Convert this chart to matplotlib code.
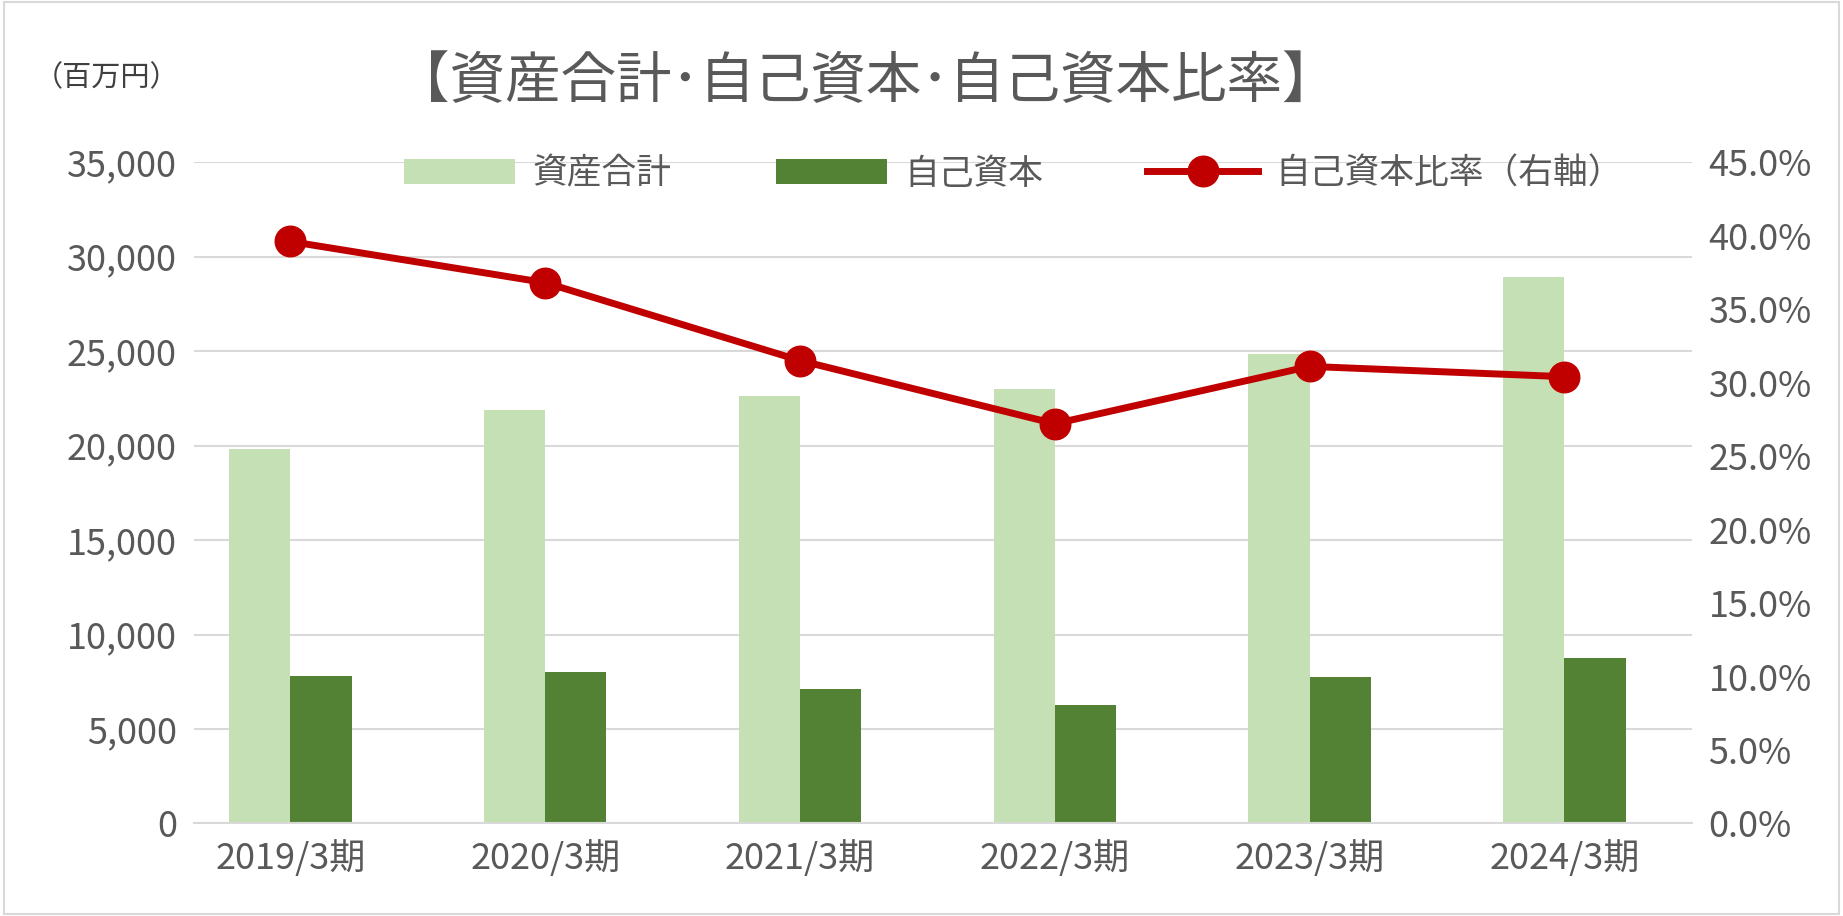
import matplotlib.pyplot as plt
import numpy as np

plt.rcParams['font.family'] = ['Noto Sans CJK JP', 'DejaVu Sans']

periods = ["2019/3期", "2020/3期", "2021/3期", "2022/3期", "2023/3期", "2024/3期"]
total_assets = [19800, 21900, 22600, 23000, 24850, 28900]
equity = [7800, 8000, 7100, 6250, 7750, 8750]
equity_ratio = [39.6, 36.8, 31.5, 27.2, 31.1, 30.4]

fig = plt.figure(figsize=(18.43, 9.16), dpi=100)
fig.patches.append(plt.Rectangle((0.002, 0.002), 0.996, 0.996, transform=fig.transFigure,
                                 fill=False, edgecolor="#d9d9d9", linewidth=1.5))
ax = fig.add_axes([0.105, 0.101, 0.813, 0.722])
ax2 = ax.twinx()

x = np.arange(len(periods))
w = 0.24
ax.bar(x - w / 2, total_assets, w, color="#c5e0b4", label="資産合計", zorder=2)
ax.bar(x + w / 2, equity, w, color="#548235", label="自己資本", zorder=2)
ax2.plot(x, equity_ratio, color="#c00000", linewidth=5, marker="o", markersize=22,
         label="自己資本比率（右軸）", zorder=3)

ax.set_ylim(0, 35000)
ax.set_yticks(range(0, 35001, 5000))
ax.set_yticklabels([f"{v:,}" for v in range(0, 35001, 5000)])
ax2.set_ylim(0, 45)
ax2.set_yticks(range(0, 46, 5))
ax2.set_yticklabels([f"{v:.1f}%" for v in range(0, 46, 5)])
ax.set_xlim(-0.38, 5.5)
ax.set_xticks(x)
ax.set_xticklabels(periods)
ax.grid(axis="y", color="#d9d9d9", linewidth=1.5, zorder=0)
ax.set_axisbelow(True)
for a in (ax, ax2):
    for s in a.spines.values():
        s.set_visible(False)
    a.tick_params(length=0, labelsize=26, colors="#595959", pad=12)
ax.spines["bottom"].set_visible(True)
ax.spines["bottom"].set_color("#d9d9d9")
ax.spines["bottom"].set_linewidth(1.5)
ax.set_zorder(ax2.get_zorder() - 1)
ax.patch.set_visible(False)

h1, l1 = ax.get_legend_handles_labels()
h2, l2 = ax2.get_legend_handles_labels()
fig.legend(h1 + h2, l1 + l2, loc="center", bbox_to_anchor=(0.55, 0.81), ncol=3,
           frameon=False, fontsize=25, labelcolor="#595959", handlelength=3.2,
           columnspacing=3, handletextpad=0.5)

fig.text(0.47, 0.91, "【資産合計･自己資本･自己資本比率】", ha="center", va="center",
         fontsize=40, color="#595959")
fig.text(0.058, 0.915, "（百万円）", ha="center", va="center", fontsize=21, color="#404040")

fig.savefig("out.png")
